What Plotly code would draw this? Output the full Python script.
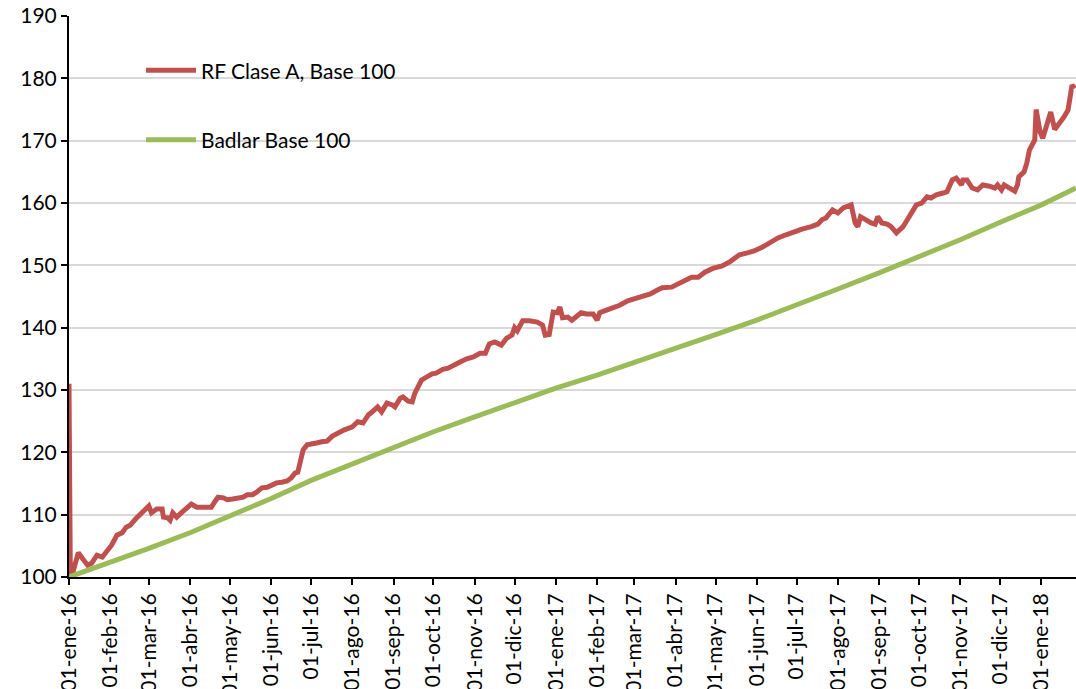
import pandas as pd
import plotly.graph_objects as go

# ---- data ----
start_date = "2016-01-01"
end_date = "2018-01-27"

# RF Clase A, Base 100 : day offset from 2016-01-01, value
red_day = [0, 1, 3, 7, 10, 14, 17, 21, 25, 29, 32, 36, 40, 43, 46, 50, 53, 57, 60, 62,
           66, 70, 71, 74, 76, 78, 81, 85, 89, 92, 96, 100, 104, 107, 110, 112, 116, 119,
           123, 127, 131, 134, 138, 141, 145, 149, 153, 156, 160, 164, 167, 170, 172, 174,
           176, 179, 183, 186, 190, 194, 198, 202, 207, 213, 217, 221, 225, 228, 232, 235,
           239, 243, 245, 249, 251, 255, 258, 260, 262, 265, 269, 273, 276, 281, 285, 289,
           294, 299, 304, 309, 313, 316, 320, 325, 329, 333, 335, 337, 341, 346, 352, 356,
           358, 361, 364, 367, 369, 371, 375, 378, 382, 385, 389, 394, 397, 399, 404, 409,
           414, 420, 427, 431, 437, 442, 446, 453, 458, 463, 468, 473, 478, 484, 491, 497,
           504, 510, 515, 521, 527, 533, 539, 545, 551, 558, 563, 566, 569, 574, 578, 582,
           588, 591, 593, 595, 600, 603, 606, 608, 611, 615, 618, 622, 627, 632, 637, 641,
           645, 648, 652, 657, 660, 664, 667, 671, 672, 675, 679, 683, 687, 692, 696, 698,
           701, 703, 707, 711, 713, 714, 718, 720, 722, 726, 727, 730, 732, 735, 738, 741,
           745, 748, 751, 753, 754, 756]
red_val = [131.0, 100.2, 100.8, 103.9, 103.0, 101.9, 102.2, 103.5, 103.2, 104.3, 105.1,
           106.7, 107.1, 108.0, 108.3, 109.3, 110.0, 110.9, 111.4, 110.3, 110.9, 110.9,
           109.6, 109.5, 109.1, 110.3, 109.6, 110.4, 111.2, 111.7, 111.2, 111.2, 111.2,
           111.2, 112.2, 112.8, 112.7, 112.4, 112.5, 112.7, 112.8, 113.2, 113.2, 113.6,
           114.3, 114.4, 114.9, 115.1, 115.2, 115.4, 115.9, 116.7, 116.8, 118.8, 120.4,
           121.2, 121.3, 121.5, 121.7, 121.8, 122.6, 123.1, 123.6, 124.1, 124.9, 124.7,
           126.0, 126.5, 127.3, 126.5, 127.9, 127.6, 127.3, 128.7, 128.9, 128.2, 128.1,
           129.5, 130.3, 131.6, 132.1, 132.6, 132.7, 133.3, 133.5, 134.0, 134.5, 135.0,
           135.3, 135.9, 135.9, 137.4, 137.7, 137.2, 138.3, 138.8, 140.0, 139.5, 141.1,
           141.1, 140.9, 140.4, 138.8, 138.9, 142.5, 142.4, 143.3, 141.6, 141.7, 141.2,
           141.9, 142.4, 142.2, 142.2, 141.2, 142.4, 142.8, 143.2, 143.6, 144.3, 144.8,
           145.1, 145.4, 146.0, 146.4, 146.5, 147.0, 147.5, 148.1, 148.1, 148.9, 149.5,
           149.9, 150.6, 151.7, 152.0, 152.3, 152.9, 153.7, 154.4, 154.9, 155.4, 155.8,
           156.2, 156.6, 157.3, 157.6, 158.9, 158.4, 159.2, 159.7, 156.8, 156.2, 157.8,
           157.1, 156.8, 156.6, 157.8, 156.8, 156.6, 156.2, 155.2, 156.2, 158.1, 159.7,
           160.0, 161.0, 160.8, 161.3, 161.6, 161.8, 163.7, 164.0, 162.9, 163.7, 163.7,
           162.4, 162.1, 162.9, 162.7, 162.4, 162.9, 162.1, 162.9, 162.4, 161.9, 162.9,
           164.2, 165.0, 166.4, 168.5, 170.1, 175.0, 171.4, 170.4, 172.8, 174.6, 171.8,
           172.8, 173.8, 174.9, 177.3, 178.9, 178.4]

# Badlar Base 100 : month starts + last day
green_dates = ["2016-01-01", "2016-02-01", "2016-03-01", "2016-04-01", "2016-05-01",
               "2016-06-01", "2016-07-01", "2016-08-01", "2016-09-01", "2016-10-01",
               "2016-11-01", "2016-12-01", "2017-01-01", "2017-02-01", "2017-03-01",
               "2017-04-01", "2017-05-01", "2017-06-01", "2017-07-01", "2017-08-01",
               "2017-09-01", "2017-10-01", "2017-11-01", "2017-12-01", "2018-01-01",
               "2018-01-27"]
green_val = [100.0, 102.3, 104.6, 107.1, 109.7, 112.6, 115.5, 118.2, 120.8, 123.3,
             125.7, 128.0, 130.3, 132.4, 134.4, 136.7, 138.9, 141.2, 143.6, 146.2,
             148.8, 151.4, 154.1, 156.9, 159.7, 162.4]

tick_dates = green_dates[:-1]
tick_labels = ["01-ene-16", "01-feb-16", "01-mar-16", "01-abr-16", "01-may-16",
               "01-jun-16", "01-jul-16", "01-ago-16", "01-sep-16", "01-oct-16",
               "01-nov-16", "01-dic-16", "01-ene-17", "01-feb-17", "01-mar-17",
               "01-abr-17", "01-may-17", "01-jun-17", "01-jul-17", "01-ago-17",
               "01-sep-17", "01-oct-17", "01-nov-17", "01-dic-17", "01-ene-18"]

y_ticks = [100, 110, 120, 130, 140, 150, 160, 170, 180, 190]

red_dates = pd.Timestamp(start_date) + pd.to_timedelta(red_day, unit="D")

FONT = "Lato"
fig = go.Figure()
fig.add_trace(go.Scatter(x=red_dates, y=red_val, mode="lines", name="RF Clase A, Base 100",
                         line=dict(color="#c0504d", width=5), legendgroup="a"))
fig.add_trace(go.Scatter(x=pd.to_datetime(green_dates), y=green_val, mode="lines",
                         name="Badlar Base 100", line=dict(color="#9bbb59", width=5),
                         legendgroup="b"))

fig.update_layout(
    width=1076, height=689,
    margin=dict(l=69, r=0, t=16, b=112, autoexpand=False),
    paper_bgcolor="white", plot_bgcolor="white",
    font=dict(family=FONT, size=21, color="#000000"),
    showlegend=True,
    legend=dict(x=0.0715, y=0.939, xanchor="left", yanchor="top",
                bgcolor="rgba(0,0,0,0)", font=dict(family=FONT, size=21),
                tracegroupgap=39, itemwidth=50, traceorder="grouped"),
    xaxis=dict(type="date", range=[start_date, end_date], automargin=False,
               tickvals=tick_dates, ticktext=tick_labels, tickangle=-90,
               showgrid=False, showline=True, linecolor="#000000", linewidth=2,
               ticks="outside", ticklen=6, tickwidth=2, tickcolor="#000000",
               tickfont=dict(family=FONT, size=21), zeroline=False),
    yaxis=dict(range=[100, 190], tickvals=y_ticks, showgrid=True, automargin=False,
               gridcolor="#d9d9d9", gridwidth=2,
               showline=True, linecolor="#000000", linewidth=2,
               ticks="outside", ticklen=6, tickwidth=2, tickcolor="#000000",
               tickfont=dict(family=FONT, size=21), zeroline=False),
)

fig.write_html("out.html", config={"displayModeBar": False},
               post_script="document.body.style.margin='0';document.body.style.overflow='hidden';")
